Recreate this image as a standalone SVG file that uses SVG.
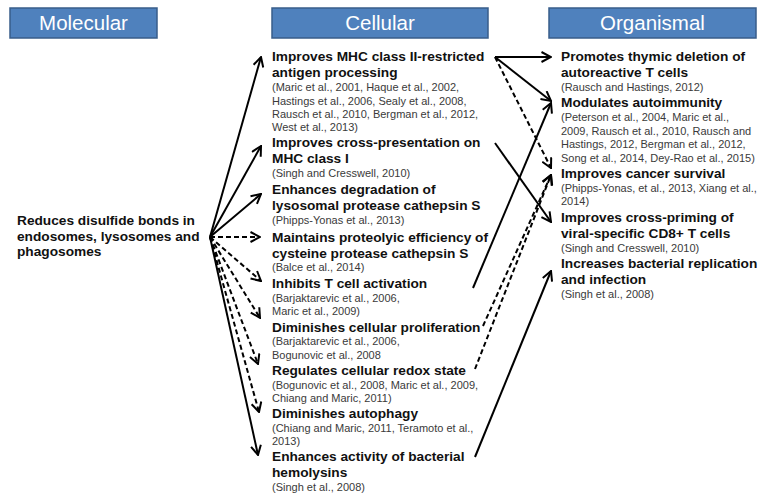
<svg xmlns="http://www.w3.org/2000/svg" width="763" height="496" viewBox="0 0 763 496">
<style>
.bar{fill:#4F81BD;stroke:#385D8A;stroke-width:1.5}
.hd{font-family:"Liberation Sans",Arial,sans-serif;font-size:20.5px;fill:#ffffff;text-anchor:middle}
.t{font-family:"Liberation Sans",Arial,sans-serif;font-size:13.7px;font-weight:bold;fill:#111}
.c{font-family:"Liberation Sans",Arial,sans-serif;font-size:11px;fill:#3a3a3a}
.ln{fill:none;stroke:#000;stroke-width:2;marker-end:url(#ah)}
.d{stroke-dasharray:5,3}
</style>
<defs>
<marker id="ah" viewBox="0 0 12 12" refX="11" refY="6" markerWidth="12" markerHeight="12" markerUnits="userSpaceOnUse" orient="auto">
<path d="M1.5,1 L11,6 L1.5,11" fill="none" stroke="#000" stroke-width="2" stroke-dasharray="none"/>
</marker>
</defs>
<rect width="763" height="496" fill="#ffffff"/>
<g id="header-molecular"><rect class="bar" x="10" y="8" width="147" height="30"/><text class="hd" x="83.5" y="30">Molecular</text></g>
<g id="header-cellular"><rect class="bar" x="272" y="8" width="216" height="30"/><text class="hd" x="380" y="30">Cellular</text></g>
<g id="header-organismal"><rect class="bar" x="549" y="8" width="207" height="30"/><text class="hd" x="652.5" y="30">Organismal</text></g>

<g id="molecular">
<text class="t" x="17" y="225">Reduces disulfide bonds in</text>
<text class="t" x="17" y="240.5">endosomes, lysosomes and</text>
<text class="t" x="17" y="256">phagosomes</text>
</g>

<g id="c1">
<text class="t" x="272" y="61">Improves MHC class II-restricted</text>
<text class="t" x="272" y="77">antigen processing</text>
<text class="c" x="272" y="91">(Maric et al., 2001, Haque et al., 2002,</text>
<text class="c" x="272" y="104.5">Hastings et al., 2006, Sealy et al., 2008,</text>
<text class="c" x="272" y="118">Rausch et al., 2010, Bergman et al., 2012,</text>
<text class="c" x="272" y="131">West et al., 2013)</text>
</g>
<g id="c2">
<text class="t" x="272" y="147">Improves cross-presentation on</text>
<text class="t" x="272" y="163">MHC class I</text>
<text class="c" x="272" y="177">(Singh and Cresswell, 2010)</text>
</g>
<g id="c3">
<text class="t" x="272" y="194">Enhances degradation of</text>
<text class="t" x="272" y="210">lysosomal protease cathepsin S</text>
<text class="c" x="272" y="224">(Phipps-Yonas et al., 2013)</text>
</g>
<g id="c4">
<text class="t" x="272" y="241.5">Maintains proteolyic efficiency of</text>
<text class="t" x="272" y="257.5">cysteine protease cathepsin S</text>
<text class="c" x="272" y="271">(Balce et al., 2014)</text>
</g>
<g id="c5">
<text class="t" x="272" y="288">Inhibits T cell activation</text>
<text class="c" x="272" y="301.5">(Barjaktarevic et al., 2006,</text>
<text class="c" x="272" y="315">Maric et al., 2009)</text>
</g>
<g id="c6">
<text class="t" x="272" y="331.5">Diminishes cellular proliferation</text>
<text class="c" x="272" y="345">(Barjaktarevic et al., 2006,</text>
<text class="c" x="272" y="358.5">Bogunovic et al., 2008</text>
</g>
<g id="c7">
<text class="t" x="272" y="375">Regulates cellular redox state</text>
<text class="c" x="272" y="388.5">(Bogunovic et al., 2008, Maric et al., 2009,</text>
<text class="c" x="272" y="402">Chiang and Maric, 2011)</text>
</g>
<g id="c8">
<text class="t" x="272" y="418">Diminishes autophagy</text>
<text class="c" x="272" y="431.5">(Chiang and Maric, 2011, Teramoto et al.,</text>
<text class="c" x="272" y="445">2013)</text>
</g>
<g id="c9">
<text class="t" x="272" y="461">Enhances activity of bacterial</text>
<text class="t" x="272" y="477">hemolysins</text>
<text class="c" x="272" y="491">(Singh et al., 2008)</text>
</g>

<g id="o1">
<text class="t" x="561" y="61">Promotes thymic deletion of</text>
<text class="t" x="561" y="77">autoreactive T cells</text>
<text class="c" x="561" y="91">(Rausch and Hastings, 2012)</text>
</g>
<g id="o2">
<text class="t" x="561" y="107">Modulates autoimmunity</text>
<text class="c" x="561" y="121">(Peterson et al., 2004, Maric et al.,</text>
<text class="c" x="561" y="134.5">2009, Rausch et al., 2010, Rausch and</text>
<text class="c" x="561" y="148">Hastings, 2012, Bergman et al., 2012,</text>
<text class="c" x="561" y="161.5">Song et al., 2014, Dey-Rao et al., 2015)</text>
</g>
<g id="o3">
<text class="t" x="561" y="178">Improves cancer survival</text>
<text class="c" x="561" y="192">(Phipps-Yonas, et al., 2013, Xiang et al.,</text>
<text class="c" x="561" y="205">2014)</text>
</g>
<g id="o4">
<text class="t" x="561" y="222">Improves cross-priming of</text>
<text class="t" x="561" y="238">viral-specific CD8+ T cells</text>
<text class="c" x="561" y="252">(Singh and Cresswell, 2010)</text>
</g>
<g id="o5">
<text class="t" x="561" y="268">Increases bacterial replication</text>
<text class="t" x="561" y="284">and infection</text>
<text class="c" x="561" y="298">(Singh et al., 2008)</text>
</g>

<g id="connectors">
<line class="ln" x1="210" y1="237" x2="261" y2="57"/>
<line class="ln" x1="210" y1="237" x2="261" y2="146"/>
<line class="ln" x1="210" y1="237" x2="261" y2="194"/>
<line class="ln d" x1="210" y1="237" x2="260" y2="237"/>
<line class="ln d" x1="210" y1="237" x2="261" y2="281"/>
<line class="ln d" x1="210" y1="237" x2="260" y2="318"/>
<line class="ln d" x1="210" y1="237" x2="258" y2="364"/>
<line class="ln d" x1="210" y1="237" x2="259" y2="412"/>
<line class="ln" x1="210" y1="237" x2="258" y2="455"/>
<line class="ln" x1="495" y1="57" x2="551" y2="57"/>
<line class="ln" x1="495" y1="57" x2="551" y2="101"/>
<line class="ln d" x1="495" y1="57" x2="551" y2="168"/>
<line class="ln" x1="495" y1="143" x2="551" y2="222"/>
<line class="ln" x1="473" y1="288" x2="551" y2="103"/>
<line class="ln d" x1="483" y1="326" x2="551" y2="175"/>
<line class="ln d" x1="475" y1="369" x2="551" y2="175"/>
<line class="ln" x1="475" y1="457" x2="551" y2="271"/>
</g>
</svg>
